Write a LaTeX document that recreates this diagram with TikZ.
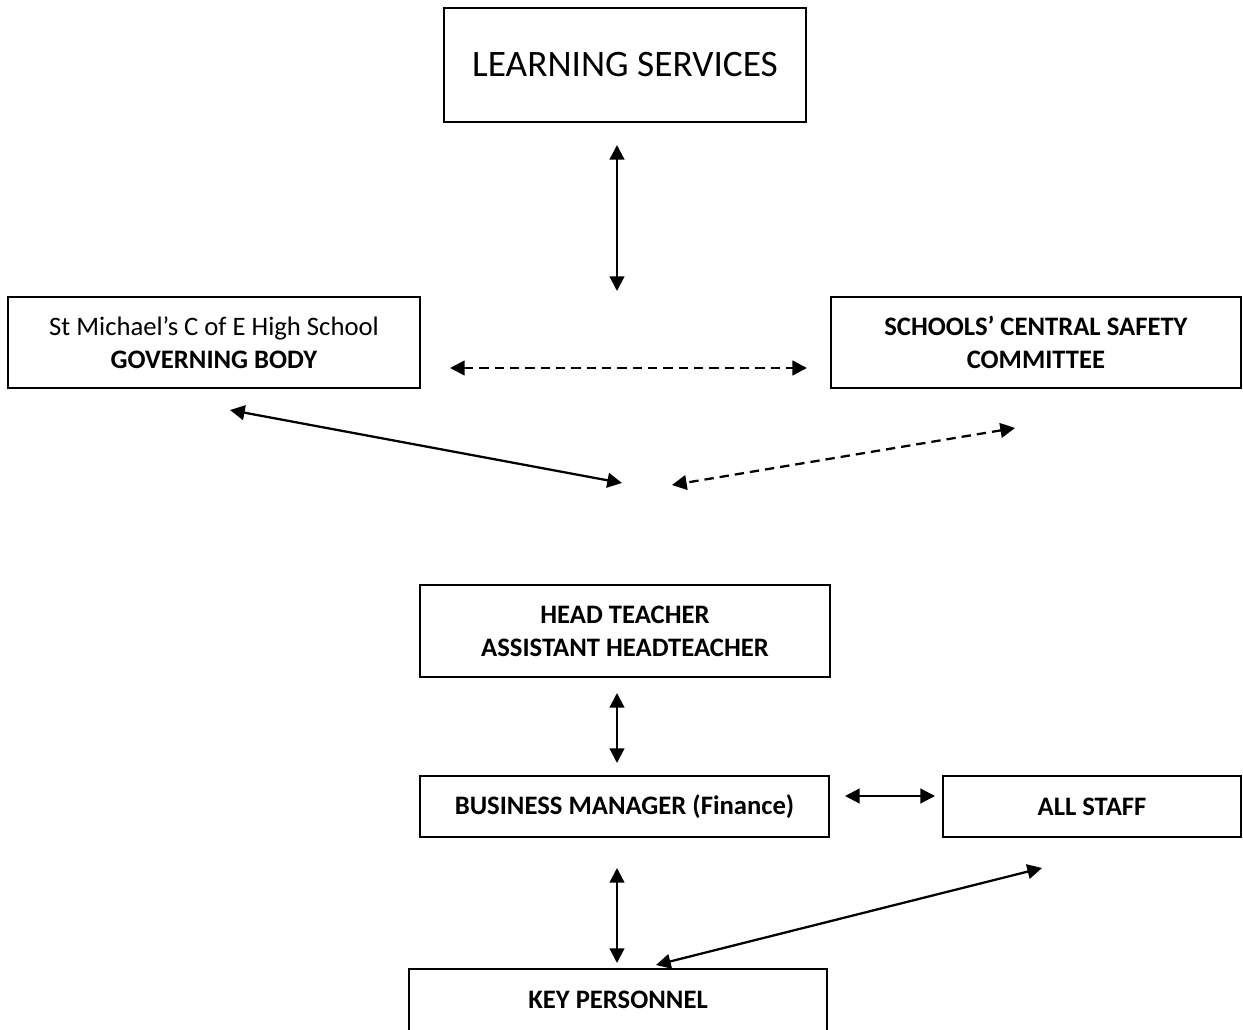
\documentclass[tikz,border=0pt]{standalone}
\usepackage{fontspec}
\setmainfont{Carlito}
\usetikzlibrary{arrows.meta}
\begin{document}
\begin{tikzpicture}[x=0.75pt,y=-0.75pt,
  box/.style={draw,line width=1.5pt,inner sep=0pt,align=center,font=\fontsize{20}{24.75}\selectfont},
  link/.style={line width=1.7pt,{Triangle[length=11pt,width=11pt]}-{Triangle[length=11pt,width=11pt]}},
  dlink/.style={link,dash pattern=on 7pt off 4.5pt}]
\clip (0,0) rectangle (1243,1030);
\fill[white] (0,0) rectangle (1243,1030);
% boxes
\node[box,minimum width=271.5pt,minimum height=85.5pt,font=\fontsize{28}{32}\selectfont] (ls) at (625,65) {LEARNING SERVICES};
\node[box,minimum width=309pt,minimum height=68.25pt] (gb) at (214,342.5) {St Michael’s C of E High School\\\textbf{GOVERNING BODY}};
\node[box,minimum width=307.5pt,minimum height=68.25pt] (sc) at (1036,342.5) {\textbf{SCHOOLS’ CENTRAL SAFETY}\\\textbf{COMMITTEE}};
\node[box,minimum width=307.5pt,minimum height=69pt] (ht) at (625,631) {\textbf{HEAD TEACHER}\\\textbf{ASSISTANT HEADTEACHER}};
\node[box,minimum width=306.75pt,minimum height=45.75pt] (bm) at (624.5,806.5) {\textbf{BUSINESS MANAGER (Finance)}};
\node[box,minimum width=223.5pt,minimum height=45.75pt] (as) at (1092,806.5) {\textbf{ALL STAFF}};
\node[box,minimum width=313.5pt,minimum height=69pt,anchor=north] (kp) at (618,968) {};
\node[font=\fontsize{20}{24.75}\selectfont\bfseries] (kpt) at (618,1000) {KEY PERSONNEL};
% free connector ends
\coordinate (a1) at (617,145); \coordinate (a2) at (617,291);
\coordinate (d1) at (450,368); \coordinate (d2) at (807,368);
\coordinate (s1) at (230,410); \coordinate (s2) at (622,483);
\coordinate (e1) at (1015,428); \coordinate (e2) at (672,485);
\coordinate (b1) at (617,693); \coordinate (b2) at (617,763);
\coordinate (c1) at (845,796); \coordinate (c2) at (935,796);
\coordinate (k1) at (617,868); \coordinate (k2) at (617,963);
\coordinate (m1) at (1042,868); \coordinate (m2) at (656,965);
% connectors
\draw[link] (a1) -- (a2);
\draw[dlink] (d1) -- (d2);
\draw[link] (s1) -- (s2);
\draw[dlink] (e1) -- (e2);
\draw[link] (b1) -- (b2);
\draw[link] (c1) -- (c2);
\draw[link] (k1) -- (k2);
\draw[link] (m1) -- (m2);
\end{tikzpicture}
\end{document}
